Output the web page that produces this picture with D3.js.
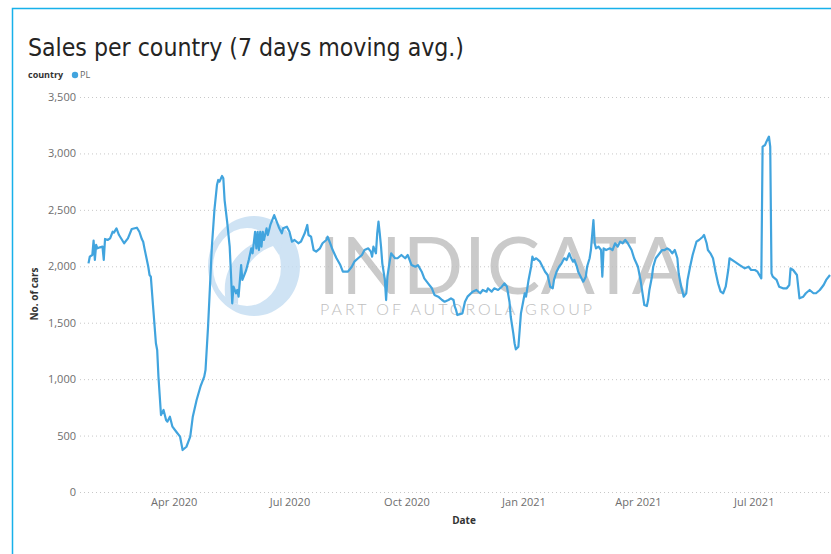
<!DOCTYPE html>
<html>
<head>
<meta charset="utf-8">
<script src="https://cdn.jsdelivr.net/npm/d3@7"></script>
<style>
  body { margin: 0; background: #fff; }
  svg { display: block; }
</style>
</head>
<body>
<svg id="chart"></svg>
<script>
// daily sales, 7 day moving average (PL)
const dates = [
  '2020-01-25', '2020-01-26', '2020-01-28', '2020-01-29', '2020-01-30', '2020-01-31', '2020-02-01', '2020-02-03',
  '2020-02-05', '2020-02-06', '2020-02-07', '2020-02-09', '2020-02-11', '2020-02-13', '2020-02-14', '2020-02-16',
  '2020-02-18', '2020-02-22', '2020-02-25', '2020-02-28', '2020-03-03', '2020-03-05', '2020-03-07', '2020-03-08',
  '2020-03-09', '2020-03-12', '2020-03-13', '2020-03-14', '2020-03-16', '2020-03-18', '2020-03-19', '2020-03-20',
  '2020-03-22', '2020-03-24', '2020-03-26', '2020-03-27', '2020-03-29', '2020-03-31', '2020-04-03', '2020-04-06',
  '2020-04-08', '2020-04-11', '2020-04-14', '2020-04-16', '2020-04-19', '2020-04-22', '2020-04-25', '2020-04-26',
  '2020-04-28', '2020-04-29', '2020-05-01', '2020-05-03', '2020-05-05', '2020-05-06', '2020-05-07', '2020-05-09',
  '2020-05-10', '2020-05-11', '2020-05-13', '2020-05-15', '2020-05-16', '2020-05-17', '2020-05-18', '2020-05-20',
  '2020-05-21', '2020-05-22', '2020-05-24', '2020-05-25', '2020-05-28', '2020-05-30', '2020-06-01', '2020-06-02',
  '2020-06-04', '2020-06-05', '2020-06-06', '2020-06-07', '2020-06-08', '2020-06-09', '2020-06-10', '2020-06-11',
  '2020-06-13', '2020-06-14', '2020-06-16', '2020-06-19', '2020-06-21', '2020-06-23', '2020-06-25', '2020-06-26',
  '2020-06-29', '2020-07-01', '2020-07-03', '2020-07-05', '2020-07-08', '2020-07-10', '2020-07-13', '2020-07-15',
  '2020-07-16', '2020-07-18', '2020-07-20', '2020-07-22', '2020-07-25', '2020-07-27', '2020-07-30', '2020-07-31',
  '2020-08-02', '2020-08-04', '2020-08-07', '2020-08-10', '2020-08-12', '2020-08-16', '2020-08-19', '2020-08-21',
  '2020-08-24', '2020-08-27', '2020-08-29', '2020-09-01', '2020-09-03', '2020-09-04', '2020-09-05', '2020-09-07',
  '2020-09-08', '2020-09-09', '2020-09-10', '2020-09-11', '2020-09-12', '2020-09-14', '2020-09-15', '2020-09-16',
  '2020-09-18', '2020-09-19', '2020-09-22', '2020-09-24', '2020-09-27', '2020-09-30', '2020-10-02', '2020-10-05',
  '2020-10-08', '2020-10-10', '2020-10-13', '2020-10-15', '2020-10-18', '2020-10-21', '2020-10-23', '2020-10-26',
  '2020-10-29', '2020-10-31', '2020-11-03', '2020-11-05', '2020-11-07', '2020-11-08', '2020-11-09', '2020-11-10',
  '2020-11-14', '2020-11-16', '2020-11-18', '2020-11-22', '2020-11-25', '2020-11-28', '2020-11-30', '2020-12-03',
  '2020-12-04', '2020-12-07', '2020-12-09', '2020-12-12', '2020-12-15', '2020-12-17', '2020-12-19', '2020-12-21',
  '2020-12-22', '2020-12-24', '2020-12-25', '2020-12-26', '2020-12-28', '2020-12-29', '2020-12-30', '2021-01-01',
  '2021-01-02', '2021-01-03', '2021-01-05', '2021-01-07', '2021-01-08', '2021-01-09', '2021-01-11', '2021-01-14',
  '2021-01-16', '2021-01-18', '2021-01-20', '2021-01-22', '2021-01-24', '2021-01-25', '2021-01-27', '2021-01-29',
  '2021-01-31', '2021-02-02', '2021-02-04', '2021-02-06', '2021-02-07', '2021-02-09', '2021-02-10', '2021-02-12',
  '2021-02-13', '2021-02-15', '2021-02-17', '2021-02-19', '2021-02-20', '2021-02-22', '2021-02-23', '2021-02-25',
  '2021-02-26', '2021-02-27', '2021-03-01', '2021-03-03', '2021-03-04', '2021-03-05', '2021-03-07', '2021-03-10',
  '2021-03-12', '2021-03-14', '2021-03-16', '2021-03-18', '2021-03-20', '2021-03-22', '2021-03-24', '2021-03-27',
  '2021-03-29', '2021-04-01', '2021-04-03', '2021-04-05', '2021-04-06', '2021-04-08', '2021-04-09', '2021-04-10',
  '2021-04-12', '2021-04-13', '2021-04-15', '2021-04-17', '2021-04-20', '2021-04-22', '2021-04-24', '2021-04-26',
  '2021-04-28', '2021-04-30', '2021-05-02', '2021-05-03', '2021-05-05', '2021-05-07', '2021-05-09', '2021-05-10',
  '2021-05-12', '2021-05-14', '2021-05-17', '2021-05-19', '2021-05-22', '2021-05-23', '2021-05-25', '2021-05-26',
  '2021-05-28', '2021-05-30', '2021-06-01', '2021-06-03', '2021-06-05', '2021-06-07', '2021-06-09', '2021-06-11',
  '2021-06-12', '2021-06-16', '2021-06-20', '2021-06-24', '2021-06-27', '2021-06-29', '2021-07-02', '2021-07-04',
  '2021-07-07', '2021-07-08', '2021-07-10', '2021-07-11', '2021-07-13', '2021-07-14', '2021-07-15', '2021-07-16',
  '2021-07-19', '2021-07-21', '2021-07-24', '2021-07-27', '2021-07-29', '2021-07-30', '2021-08-01', '2021-08-04',
  '2021-08-05', '2021-08-06', '2021-08-09', '2021-08-11', '2021-08-14', '2021-08-17', '2021-08-19', '2021-08-22',
  '2021-08-25', '2021-08-27', '2021-08-30',
]

const sales = [
  2026, 2085, 2100, 2227, 2056, 2189, 2159, 2168,
  2174, 2056, 2242, 2233, 2248, 2306, 2298, 2336,
  2277, 2204, 2248, 2330, 2342, 2306, 2239, 2218,
  2159, 1996, 1923, 1908, 1613, 1318, 1258, 1022,
  682, 727, 638, 623, 667, 579, 534, 490,
  372, 401, 490, 667, 815, 933, 1022, 1081,
  1465, 1701, 2174, 2499, 2720, 2765, 2750, 2800,
  2780, 2587, 2395, 2174, 1938, 1672, 1819, 1761,
  1790, 1731, 2011, 1879, 1967, 2056, 2159, 2115,
  2306, 2159, 2306, 2144, 2306, 2174, 2306, 2233,
  2336, 2277, 2366, 2454, 2395, 2336, 2292, 2336,
  2351, 2306, 2218, 2233, 2204, 2218, 2292, 2366,
  2277, 2262, 2144, 2130, 2159, 2204, 2233, 2262,
  2204, 2144, 2071, 2011, 1952, 1952, 1996, 2041,
  2071, 2100, 2144, 2159, 2130, 2085, 2174, 2115,
  2292, 2395, 2292, 2174, 2026, 1879, 1701, 1908,
  2056, 2115, 2071, 2071, 2100, 2071, 2100, 2011,
  1996, 2011, 1952, 1893, 1849, 1805, 1746, 1731,
  1701, 1686, 1701, 1716, 1701, 1642, 1613, 1568,
  1583, 1686, 1731, 1775, 1790, 1761, 1790, 1775,
  1805, 1775, 1805, 1790, 1819, 1849, 1819, 1686,
  1553, 1406, 1318, 1264, 1288, 1435, 1583, 1701,
  1761, 1731, 1879, 1996, 2085, 2056, 2071, 2041,
  1996, 1952, 1923, 1819, 1805, 1879, 1952, 1996,
  2026, 2071, 2056, 2115, 2085, 2041, 2056, 1996,
  1952, 1908, 1864, 1908, 1996, 2071, 2144, 2410,
  2204, 2159, 2174, 2144, 1908, 2159, 2144, 2159,
  2144, 2204, 2174, 2218, 2204, 2233, 2204, 2144,
  2071, 1996, 1879, 1731, 1657, 1648, 1701, 1790,
  1908, 1996, 2071, 2100, 2144, 2144, 2159, 2144,
  2115, 2144, 2071, 1938, 1819, 1731, 1761, 1879,
  1996, 2100, 2218, 2233, 2262, 2277, 2204, 2144,
  2115, 2071, 1952, 1849, 1775, 1761, 1819, 1967,
  2071, 2041, 2011, 1982, 1996, 1967, 1967, 1952,
  1893, 3060, 3075, 3104, 3149, 3060, 1938, 1908,
  1879, 1819, 1805, 1805, 1834, 1982, 1967, 1923,
  1819, 1716, 1731, 1761, 1790, 1761, 1761, 1790,
  1834, 1879, 1923,
]

const yTicks = [0, 500, 1000, 1500, 2000, 2500, 3000, 3500]
const xTicks = ['2020-04-01', '2020-07-01', '2020-10-01', '2021-01-01', '2021-04-01', '2021-07-01']
const xDomain = ['2020-01-25', '2021-08-30']

const svgWidth = 831
const svgHeight = 554

const parseDate = d3.timeParse('%Y-%m-%d')
const data = dates.map((d, i) => ({ date: parseDate(d), value: sales[i] }))

const svg = d3.select('#chart').attr('width', svgWidth).attr('height', svgHeight)

// frame of the visual (cyan focus border)
svg
  .append('path')
  .attr('d', `M12.5,${svgHeight} V8.5 H${svgWidth}`)
  .attr('fill', 'none')
  .attr('stroke', '#17b1ea')
  .attr('stroke-width', 1.5)

// title + legend
svg
  .append('text')
  .attr('x', 28)
  .attr('y', 56)
  .attr('textLength', 436)
  .attr('lengthAdjust', 'spacingAndGlyphs')
  .style('font-family', '"DejaVu Sans Condensed", "Roboto", sans-serif')
  .style('font-size', '25px')
  .style('fill', '#252423')
  .text('Sales per country (7 days moving avg.)')

svg
  .append('text')
  .attr('x', 28)
  .attr('y', 78)
  .style('font-family', '"Open Sans", sans-serif')
  .style('font-size', '9px')
  .style('font-weight', 'bold')
  .style('fill', '#333')
  .text('country')

svg.append('circle').attr('cx', 75).attr('cy', 75).attr('r', 3.2).attr('fill', '#41a4de')

svg
  .append('text')
  .attr('x', 80)
  .attr('y', 78)
  .style('font-family', '"Open Sans", sans-serif')
  .style('font-size', '9px')
  .style('fill', '#666')
  .text('PL')

// scales
const x = d3
  .scaleTime()
  .domain(xDomain.map(parseDate))
  .range([88.5, 830])

const y = d3.scaleLinear().domain([0, 3500]).range([492, 97])

// y axis with dotted gridlines
const yAxis = svg
  .append('g')
  .attr('transform', 'translate(80,0)')
  .call(
    d3
      .axisLeft(y)
      .tickValues(yTicks)
      .tickFormat(d3.format(','))
      .tickSize(-(svgWidth - 80))
      .tickPadding(4)
  )

yAxis.select('.domain').remove()
yAxis
  .selectAll('.tick line')
  .attr('stroke', '#c8c8c8')
  .attr('stroke-width', 1)
  .attr('stroke-dasharray', '1,3')
yAxis
  .selectAll('.tick text')
  .style('font-family', '"Open Sans", sans-serif')
  .style('font-size', '11px')
  .style('fill', '#6e6e6e')

svg
  .append('text')
  .attr('transform', 'translate(38,294) rotate(-90)')
  .attr('text-anchor', 'middle')
  .style('font-family', '"Open Sans", sans-serif')
  .style('font-size', '10px')
  .style('font-weight', 'bold')
  .style('fill', '#333')
  .text('No. of cars')

// x axis
const xAxis = svg
  .append('g')
  .attr('transform', 'translate(0,492)')
  .call(
    d3
      .axisBottom(x)
      .tickValues(xTicks.map(parseDate))
      .tickFormat(d3.timeFormat('%b %Y'))
      .tickSize(0)
      .tickPadding(6)
  )

xAxis.select('.domain').remove()
xAxis
  .selectAll('.tick text')
  .style('font-family', '"Open Sans", sans-serif')
  .style('font-size', '11px')
  .style('fill', '#6e6e6e')

svg
  .append('text')
  .attr('x', 464)
  .attr('y', 524)
  .attr('text-anchor', 'middle')
  .style('font-family', '"Open Sans", sans-serif')
  .style('font-size', '10px')
  .style('font-weight', 'bold')
  .style('fill', '#333')
  .text('Date')

// watermark (INDICATA logo), sits behind the line
const wm = svg.append('g').attr('opacity', 0.8)

// crescent ring, thick on the right side
wm.append('path')
  .attr(
    'd',
    'M254,216 A46,50 0 1,1 254,316 A46,50 0 1,1 254,216 Z ' +
      'M247,228 A34,39 0 1,0 247,306 A34,39 0 1,0 247,228 Z'
  )
  .attr('fill', '#c4ddf2')
  .attr('fill-rule', 'evenodd')

// swoosh arrow inside the ring
wm.append('path')
  .attr('d', 'M226,302 C220,272 236,248 266,238 L258,230 L286,230 L279,255 L273,246 C250,254 238,276 238,304 Z')
  .attr('fill', '#c4ddf2')

// logo wordmark: one text, two lines
const wordmark = wm
  .append('text')
  .style('font-family', 'Lato, "Open Sans", sans-serif')

wordmark
  .append('tspan')
  .attr('x', 318)
  .attr('y', 294)
  .attr('textLength', 368)
  .attr('lengthAdjust', 'spacing')
  .style('font-size', '80px')
  .style('fill', '#bdbdbd')
  .text('INDICATA')

wordmark
  .append('tspan')
  .attr('x', 320)
  .attr('y', 315)
  .attr('textLength', 272)
  .attr('lengthAdjust', 'spacing')
  .style('font-size', '16px')
  .style('font-weight', 300)
  .style('fill', '#b0b0b0')
  .text('PART OF AUTOROLA GROUP')

// the line
const line = d3
  .line()
  .x((d) => x(d.date))
  .y((d) => y(d.value))

svg
  .append('path')
  .datum(data)
  .attr('d', line)
  .attr('fill', 'none')
  .attr('stroke', '#41a4de')
  .attr('stroke-width', 2.2)
  .attr('stroke-linejoin', 'round')
</script>
</body>
</html>
